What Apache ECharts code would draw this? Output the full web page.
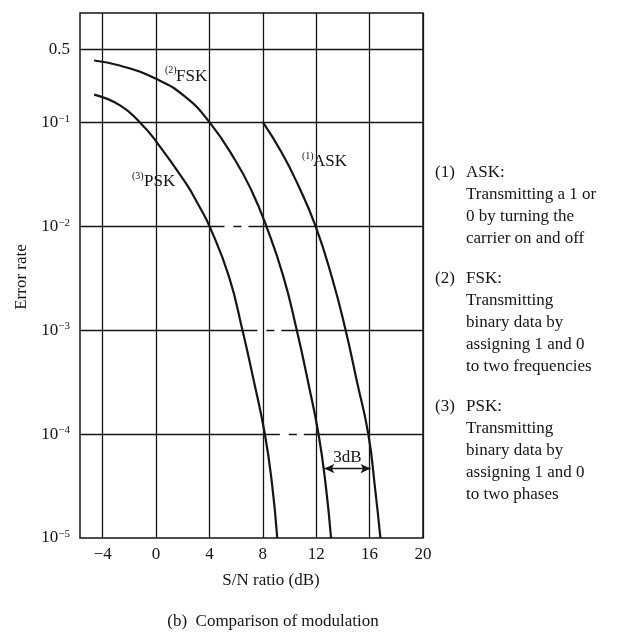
<!DOCTYPE html>
<html><head><meta charset="utf-8">
<script src="https://cdn.jsdelivr.net/npm/echarts@6/dist/echarts.min.js"></script>
<style>html,body{margin:0;padding:0;background:#fff}#c{width:626px;height:633px}</style>
</head><body><div id="c"></div>
<script>
// ---- data ----
const xTicks = [-4, 0, 4, 8, 12, 16, 20];
const xTickLabels = ['\u22124', '0', '4', '8', '12', '16', '20'];
const yTickValues = [1e-5, 1e-4, 1e-3, 1e-2, 1e-1, 0.5];
const yTickLabels = ['10{s|\u22125}', '10{s|\u22124}', '10{s|\u22123}', '10{s|\u22122}', '10{s|\u22121}', '0.5'];

const askSNR = [8.0, 9.43, 10.58, 11.95, 13.18, 14.2, 15.05, 15.9, 16.39, 16.81];
const askErr = [0.1, 0.0505, 0.0258, 0.01, 0.0032, 0.001, 3.2e-4, 1e-4, 3.16e-5, 1e-5];
const fskSNR = [-4.64, -2.73, 0, 2.15, 4, 5.93, 7.15, 8.26, 9.53, 10.54, 11.44, 12.17, 12.69, 13.11];
const fskErr = [0.392, 0.351, 0.261, 0.177, 0.1, 0.043, 0.022, 0.01, 0.0033, 0.001, 2.95e-4, 1e-4, 3.4e-5, 1e-5];
const pskSNR = [-4.64, -2.73, -1.26, 0, 2.22, 3.21, 4.0, 5.45, 6.47, 7.3, 8.15, 8.7, 9.08];
const pskErr = [0.184, 0.146, 0.101, 0.0655, 0.026, 0.0157, 0.01, 0.0033, 0.001, 3.35e-4, 1e-4, 3.2e-5, 1e-5];

const solidLevels = [0.5, 0.1];
const dashedLevels = [1e-2, 1e-3, 1e-4];   // broken between PSK and FSK curves
const gapLevel = 4.65e-5;                  // level of the 3 dB arrow
const gapFrom = 12.61, gapTo = 16.07;      // FSK -> ASK at that level

// ---- build ----
const L = Math.log10;
const X_MIN = -5.7, X_MAX = 20, Y_MIN = -5, Y_MAX = 0.05;
const FONT = '"Liberation Serif","Times New Roman",serif';
const INK = '#151515';
const pairs = (xs, ys) => xs.map((x, i) => [x, L(ys[i])]);
const xAt = (xs, ys, y) => xs[ys.findIndex(v => Math.abs(L(v) - L(y)) < 1e-9)];

const gridLines = [];
solidLevels.forEach(v => gridLines.push([{coord: [X_MIN, L(v)]}, {coord: [X_MAX, L(v)]}]));
dashedLevels.forEach(v => {
  const a = xAt(pskSNR, pskErr, v), b = xAt(fskSNR, fskErr, v);
  gridLines.push([{coord: [X_MIN, L(v)]}, {coord: [a, L(v)]}]);
  gridLines.push([{coord: [a, L(v)], lineStyle: {type: [15, 9, 8, 7, 200, 1]}}, {coord: [b, L(v)]}]);
  gridLines.push([{coord: [b, L(v)]}, {coord: [X_MAX, L(v)]}]);
});

const curve = (name, xs, ys) => ({
  name, type: 'line', data: pairs(xs, ys), smooth: 0.5, showSymbol: false,
  lineStyle: {color: INK, width: 2.2}, z: 5, silent: true
});

const chart = echarts.init(document.getElementById('c'), null, {renderer: 'canvas'});
chart.setOption({
  backgroundColor: '#fff',
  animation: false,
  grid: {left: 80, right: 203, top: 13, bottom: 95, show: true, borderColor: INK, borderWidth: 1.5, backgroundColor: 'transparent'},
  xAxis: {
    type: 'value', min: X_MIN, max: X_MAX,
    axisLine: {show: false}, axisTick: {show: false, customValues: xTicks},
    axisLabel: {customValues: xTicks, margin: 8, fontFamily: FONT, fontSize: 17, color: INK,
      formatter: v => xTickLabels[xTicks.indexOf(v)], showMinLabel: true, showMaxLabel: true},
    splitLine: {show: true, lineStyle: {color: INK, width: 1.3}}
  },
  yAxis: {
    type: 'value', min: Y_MIN, max: Y_MAX,
    axisLine: {show: false}, axisTick: {show: false, customValues: yTickValues.map(L)},
    axisLabel: {customValues: yTickValues.map(L), margin: 10, color: INK,
      formatter: v => {
        const i = yTickValues.findIndex(t => Math.abs(L(t) - v) < 1e-6);
        const s = yTickLabels[i];
        return s.indexOf('{') >= 0 ? '{b|' + s.replace('{s|', '}{s|') : '{b|' + s + '}';
      },
      rich: {
        b: {fontFamily: FONT, fontSize: 17, color: INK, lineHeight: 18},
        s: {fontFamily: FONT, fontSize: 11, color: INK, verticalAlign: 'top'}
      }},
    splitLine: {show: false}
  },
  series: [
    {type: 'line', data: [], z: 1, silent: true,
     markLine: {silent: true, symbol: 'none', animation: false, label: {show: false},
       lineStyle: {color: INK, width: 1.3, type: 'solid'}, data: gridLines}},
    curve('ASK', askSNR, askErr),
    curve('FSK', fskSNR, fskErr),
    curve('PSK', pskSNR, pskErr),
    {type: 'line', data: [], z: 6, silent: true,
     markLine: {silent: true, symbol: ['arrow', 'arrow'], symbolSize: [7, 10], animation: false,
       lineStyle: {color: INK, width: 1.3, type: 'solid'},
       label: {show: true, position: 'middle', formatter: '3dB', fontFamily: FONT, fontSize: 17, color: INK, distance: 3},
       data: [[{coord: [gapFrom, L(gapLevel)]}, {coord: [gapTo, L(gapLevel)]}]]}}
  ],
  graphic: [
    {type: 'text', x: 22, y: 277, rotation: Math.PI / 2,
     style: {text: 'Error rate', font: '17px ' + FONT, fill: INK, align: 'center', verticalAlign: 'middle'}},
    {type: 'text', x: 271, y: 581,
     style: {text: 'S/N ratio (dB)', font: '17px ' + FONT, fill: INK, align: 'center', verticalAlign: 'middle'}},
    {type: 'text', x: 273, y: 622,
     style: {text: '(b)  Comparison of modulation', font: '17px ' + FONT, fill: INK, align: 'center', verticalAlign: 'middle'}},
    // curve labels
    {type: 'text', x: 165, y: 70, style: {text: '(2)', font: '10px ' + FONT, fill: INK, align: 'left', verticalAlign: 'middle'}},
    {type: 'text', x: 176, y: 77, style: {text: 'FSK', font: '17px ' + FONT, fill: INK, align: 'left', verticalAlign: 'middle'}},
    {type: 'text', x: 132, y: 176, style: {text: '(3)', font: '10px ' + FONT, fill: INK, align: 'left', verticalAlign: 'middle'}},
    {type: 'text', x: 144, y: 182, style: {text: 'PSK', font: '17px ' + FONT, fill: INK, align: 'left', verticalAlign: 'middle'}},
    {type: 'text', x: 302, y: 156, style: {text: '(1)', font: '10px ' + FONT, fill: INK, align: 'left', verticalAlign: 'middle'}},
    {type: 'text', x: 313, y: 162, style: {text: 'ASK', font: '17px ' + FONT, fill: INK, align: 'left', verticalAlign: 'middle'}},
    // side notes
    {type: 'text', x: 435, y: 173, style: {text: '(1)', font: '17px ' + FONT, fill: INK, verticalAlign: 'middle'}},
    {type: 'text', x: 466, y: 162, style: {text: 'ASK:\nTransmitting a 1 or\n0 by turning the\ncarrier on and off', font: '17px ' + FONT, lineHeight: 22, fill: INK, verticalAlign: 'top'}},
    {type: 'text', x: 435, y: 279, style: {text: '(2)', font: '17px ' + FONT, fill: INK, verticalAlign: 'middle'}},
    {type: 'text', x: 466, y: 268, style: {text: 'FSK:\nTransmitting\nbinary data by\nassigning 1 and 0\nto two frequencies', font: '17px ' + FONT, lineHeight: 22, fill: INK, verticalAlign: 'top'}},
    {type: 'text', x: 435, y: 407, style: {text: '(3)', font: '17px ' + FONT, fill: INK, verticalAlign: 'middle'}},
    {type: 'text', x: 466, y: 396, style: {text: 'PSK:\nTransmitting\nbinary data by\nassigning 1 and 0\nto two phases', font: '17px ' + FONT, lineHeight: 22, fill: INK, verticalAlign: 'top'}}
  ]
});
</script></body></html>
